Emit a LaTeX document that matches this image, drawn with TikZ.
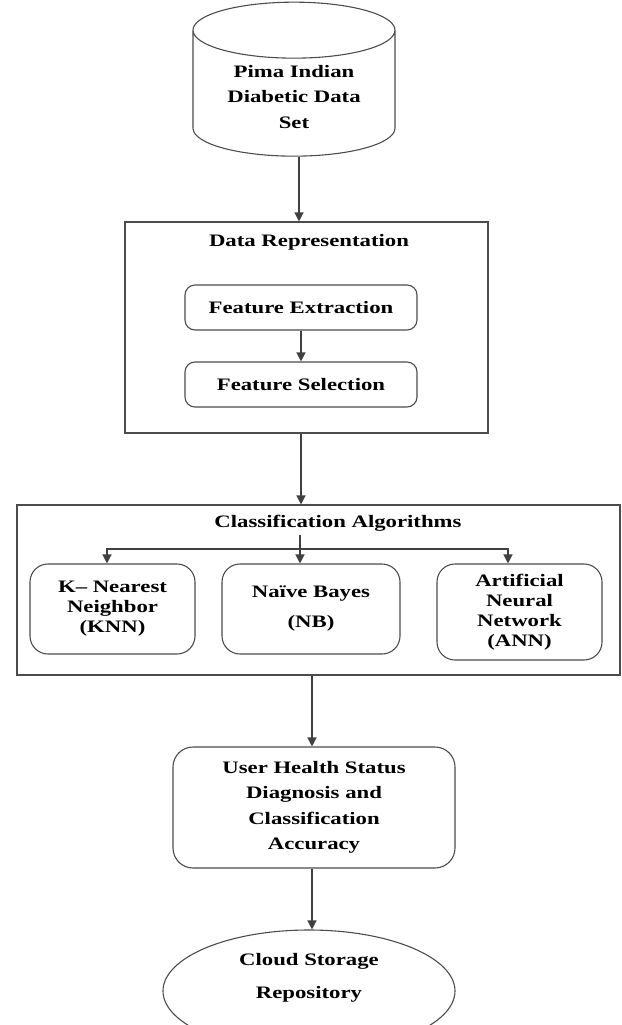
\documentclass[tikz,border=0pt]{standalone}
\usepackage{fontspec}
\setmainfont{Liberation Serif}[FakeStretch=1.3]
\usetikzlibrary{shapes.geometric,arrows.meta}

\tikzset{
  lbl/.style={font=\fontsize{17.5}{25.5}\selectfont\bfseries, align=center},
  stagebox/.style={lbl, draw=black!70, line width=1.1pt, rounded corners=10pt},
  framebox/.style={draw=black!70, line width=1.1pt},
  flow/.style={draw=black!75, line width=1.3pt, -{Triangle[length=9pt,width=9pt]}}
}

\begin{document}
\begin{tikzpicture}[x=1pt, y=-1pt]
    \useasboundingbox (0,0) rectangle (621,1025);

    % Draw the data set as a cylinder
    \node[lbl, cylinder, shape border rotate=90, draw=black!70, line width=1.1pt,
          minimum width=202pt, minimum height=154pt, aspect=0.4] (dataset) at (294,97)
          {Pima Indian\\Diabetic Data\\Set};

    % Draw the data representation frame and its inner steps
    \node[framebox, minimum width=363pt, minimum height=211pt] (rep) at (306.5,327.5) {};
    \node[lbl] (reptitle) at (309,242) {Data Representation};
    \node[stagebox, minimum width=232pt, minimum height=45pt] (extract) at (301,307.5) {Feature Extraction};
    \node[stagebox, minimum width=232pt, minimum height=45pt] (select) at (301,384.5) {Feature Selection};

    % Draw the classification frame and the three algorithms
    \node[framebox, minimum width=603pt, minimum height=170pt] (cls) at (318.5,590) {};
    \node[lbl] (clstitle) at (338,523) {Classification Algorithms};
    \coordinate (branch) at (300,549);
    \node[stagebox, font=\fontsize{17.5}{20}\selectfont\bfseries, rounded corners=18pt,
          minimum width=165pt, minimum height=90pt] (knn) at (112.5,609) {K-- Nearest\\Neighbor\\(KNN)};
    \node[stagebox, font=\fontsize{17.5}{30}\selectfont\bfseries, rounded corners=18pt,
          minimum width=178pt, minimum height=90pt] (nb) at (311,609) {Naïve Bayes\\(NB)};
    \node[stagebox, font=\fontsize{17.5}{20}\selectfont\bfseries, rounded corners=18pt,
          minimum width=165pt, minimum height=96pt] (ann) at (519.5,612) {Artificial\\Neural\\Network\\(ANN)};

    % Draw the diagnosis box and the cloud repository
    \node[stagebox, rounded corners=20pt, minimum width=282pt, minimum height=121pt] (health) at (314,807.5)
          {User Health Status\\Diagnosis and\\Classification\\Accuracy};
    \node[lbl, ellipse, draw=black!70, line width=1.1pt, font=\fontsize{17.5}{33}\selectfont\bfseries,
          minimum width=292pt, minimum height=122pt, text depth=30pt] (cloud) at (309,991) {Cloud Storage\\Repository};

    % Connect the stages
    \draw[flow] ([xshift=5pt]dataset.south) -- ([xshift=5pt]dataset.south |- rep.north);
    \draw[flow] (extract) -- (select);
    \draw[flow] (extract.south |- rep.south) -- (extract.south |- cls.north);
    \draw[draw=black!75, line width=1.3pt] (branch |- clstitle.south) -- (branch);
    \draw[flow] (branch) -- (branch |- nb.north);
    \draw[flow] (branch) -| ([xshift=-5.5pt]knn.north);
    \draw[flow] (branch) -| ([xshift=-11.5pt]ann.north);
    \draw[flow] ([xshift=-2pt]health.north |- cls.south) -- ([xshift=-2pt]health.north);
    \draw[flow] ([xshift=-2pt]health.south) -- ([xshift=-2pt]health.south |- cloud.north);
\end{tikzpicture}
\end{document}
